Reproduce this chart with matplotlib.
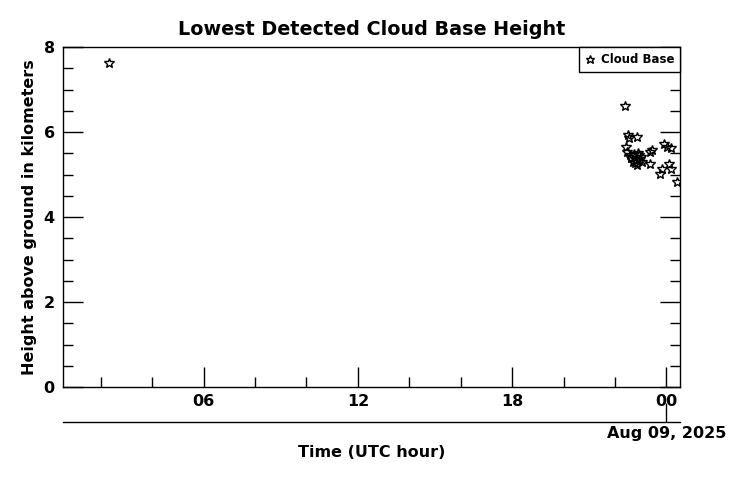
import datetime as dt
import matplotlib
matplotlib.use('Agg')
import matplotlib.pyplot as plt
import matplotlib.dates as mdates

# hours after 2025-08-08 00:00 UTC, cloud base height in km
hours = [2.32, 22.37, 22.51, 22.54, 22.86, 22.41, 22.47, 22.60, 22.73,
         22.93, 22.80, 22.99, 22.86, 23.05, 23.38, 23.45, 23.90, 24.03,
         24.16, 23.38, 23.83, 23.77, 24.10, 24.16, 24.42, 22.64, 22.90,
         22.70, 23.00, 22.78]
heights = [7.62, 6.61, 5.94, 5.86, 5.88, 5.65, 5.53, 5.45, 5.49,
           5.45, 5.33, 5.37, 5.22, 5.29, 5.54, 5.57, 5.72, 5.65,
           5.62, 5.25, 5.14, 5.02, 5.25, 5.14, 4.82, 5.40, 5.50,
           5.30, 5.42, 5.26]

day0 = dt.datetime(2025, 8, 8)
times = [day0 + dt.timedelta(hours=h) for h in hours]
t_start = day0 + dt.timedelta(hours=0.53)
t_end = day0 + dt.timedelta(hours=24.53)

plt.rcParams['font.family'] = 'DejaVu Sans'
plt.rcParams['font.weight'] = 'bold'
plt.rcParams['font.size'] = 11.5

fig = plt.figure(figsize=(7.45, 4.8), dpi=100)
ax = fig.add_axes([0.0846, 0.19375, 0.8282, 0.7083])

ax.plot(times, heights, linestyle='none', marker='*', ms=7.5,
        mfc='none', mec='black', mew=1.0, label='Cloud Base')

ax.set_xlim(t_start, t_end)
ax.set_ylim(0, 8)
ax.set_yticks([0, 2, 4, 6, 8])
ax.set_yticks([v * 0.5 for v in range(17)], minor=True)
ax.xaxis.set_major_locator(mdates.HourLocator(byhour=[0, 6, 12, 18]))
ax.xaxis.set_minor_locator(mdates.HourLocator(interval=2))
ax.xaxis.set_major_formatter(mdates.DateFormatter('%H'))

ax.tick_params(which='both', direction='in', top=True, right=True, width=1)
ax.tick_params(which='major', length=14.4)
ax.tick_params(which='minor', length=7.2)
ax.tick_params(axis='x', pad=5)
ax.tick_params(axis='y', pad=6)
for s in ax.spines.values():
    s.set_linewidth(1)

ax.set_ylabel('Height above ground in kilometers', fontweight='bold', labelpad=5)
ax.set_title('Lowest Detected Cloud Base Height', fontweight='bold', pad=9)

leg = ax.legend(loc='upper right', fontsize=8.5, borderaxespad=0,
                fancybox=False, framealpha=1, handlelength=0.8,
                handletextpad=0.5, borderpad=0.5, markerscale=0.85)
leg.get_frame().set_edgecolor('black')
leg.get_frame().set_linewidth(1)

# date axis below
ax2 = ax.twiny()
ax2.set_xlim(t_start, t_end)
ax2.xaxis.set_ticks_position('bottom')
ax2.xaxis.set_label_position('bottom')
ax2.spines['bottom'].set_position(('outward', 25.2))
for k in ['top', 'left', 'right']:
    ax2.spines[k].set_visible(False)
ax2.spines['bottom'].set_linewidth(1)
ax2.set_xticks([day0 + dt.timedelta(days=1)])
ax2.set_xticklabels(['Aug 09, 2025'])
ax2.tick_params(direction='in', length=14, width=1, pad=3)
ax2.set_xlabel('Time (UTC hour)', fontweight='bold', labelpad=3)

fig.savefig('out.png', dpi=100)
